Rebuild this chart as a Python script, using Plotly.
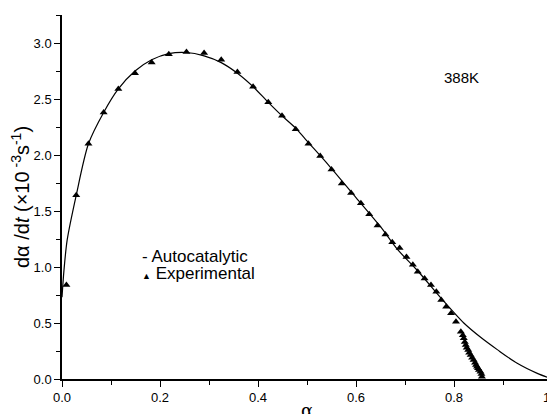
import plotly.graph_objects as go

# Experimental points (alpha, dalpha/dt x1e-3 s^-1)
exp_alpha = [0.009, 0.029, 0.054, 0.085, 0.115, 0.149, 0.183, 0.218, 0.254, 0.290,
             0.325, 0.358, 0.390, 0.421, 0.449, 0.477, 0.503, 0.527, 0.550, 0.571,
             0.590, 0.610, 0.627, 0.644, 0.660, 0.674, 0.689, 0.703, 0.716, 0.726,
             0.740, 0.753, 0.764, 0.774, 0.784, 0.794, 0.804, 0.814, 0.818, 0.820,
             0.822, 0.824, 0.826, 0.829, 0.831, 0.834, 0.837, 0.840, 0.843, 0.845,
             0.847, 0.849, 0.851, 0.854, 0.856, 0.857]
exp_rate = [0.84, 1.64, 2.10, 2.38, 2.59, 2.73, 2.825, 2.90, 2.92, 2.91,
            2.85, 2.74, 2.61, 2.47, 2.35, 2.23, 2.10, 1.99, 1.87, 1.745,
            1.66, 1.57, 1.47, 1.37, 1.29, 1.22, 1.17, 1.09, 1.02, 0.957,
            0.898, 0.839, 0.779, 0.705, 0.645, 0.586, 0.511, 0.422, 0.39, 0.363,
            0.33, 0.303, 0.28, 0.259, 0.235, 0.214, 0.19, 0.169, 0.145, 0.125,
            0.11, 0.095, 0.08, 0.065, 0.045, 0.02]

# Autocatalytic model curve
fit_alpha = [0.0, 0.004, 0.0105, 0.029, 0.054, 0.085, 0.115, 0.149, 0.183, 0.218,
             0.254, 0.290, 0.325, 0.358, 0.390, 0.421, 0.449, 0.477, 0.497, 0.544,
             0.600, 0.650, 0.686, 0.723, 0.777, 0.820, 0.855, 0.889, 0.929, 0.970, 1.0]
fit_rate = [0.73, 0.97, 1.24, 1.64, 2.10, 2.38, 2.59, 2.75, 2.85, 2.905,
            2.915, 2.885, 2.825, 2.73, 2.61, 2.47, 2.35, 2.24, 2.14, 1.91,
            1.62, 1.36, 1.15, 0.98, 0.705, 0.50, 0.37, 0.26, 0.14, 0.05, 0.0]

x_ticks = [0.0, 0.2, 0.4, 0.6, 0.8, 1.0]
x_tick_text = ["0.0", "0.2", "0.4", "0.6", "0.8", "1.0"]
y_ticks = [0.0, 0.5, 1.0, 1.5, 2.0, 2.5, 3.0]
y_tick_text = ["0.0", "0.5", "1.0", "1.5", "2.0", "2.5", "3.0"]

FONT = "Liberation Sans, Arial, sans-serif"

fig = go.Figure()
fig.add_trace(go.Scatter(x=fit_alpha, y=fit_rate, mode="lines",
                         line=dict(color="black", width=1.2, shape="spline", smoothing=0.8),
                         name="Autocatalytic", cliponaxis=False))
fig.add_trace(go.Scatter(x=exp_alpha, y=exp_rate, mode="markers",
                         marker=dict(symbol="triangle-up", size=7, color="black"),
                         name="Experimental", cliponaxis=False))

# the page body adds an 8px offset, so margins are shifted to compensate
fig.update_layout(
    width=555, height=414,
    margin=dict(l=53.5, r=11, t=6.7, b=43, pad=0),
    plot_bgcolor="white", paper_bgcolor="white",
    showlegend=False,
    font=dict(family=FONT, color="black", size=13),
    xaxis=dict(range=[0, 1.0], showgrid=False, zeroline=False, automargin=False,
               showline=True, linecolor="black", linewidth=1.5,
               ticks="outside", ticklen=6, tickwidth=1.2, tickcolor="black",
               tickvals=x_ticks, ticktext=x_tick_text, ticklabeloverflow="allow",
               tickfont=dict(size=13, family=FONT),
               minor=dict(dtick=0.1, ticks="outside", ticklen=4, tickwidth=1.2, tickcolor="black"),
               title=dict(text="α", font=dict(size=18, family="DejaVu Serif"), standoff=0)),
    yaxis=dict(range=[0, 3.25], showgrid=False, zeroline=False, automargin=False,
               showline=True, linecolor="black", linewidth=1.5,
               ticks="outside", ticklen=6, tickwidth=1.2, tickcolor="black",
               tickvals=y_ticks, ticktext=y_tick_text,
               tickfont=dict(size=13, family=FONT),
               minor=dict(dtick=0.25, ticks="outside", ticklen=4, tickwidth=1.2, tickcolor="black"),
               title=dict(text="dα /d<i>t</i> (×10<sup> -3</sup>s<sup>-1</sup>)",
                          font=dict(size=20, family=FONT), standoff=4)),
    annotations=[
        dict(text="388K", x=0.816, y=2.69, xref="x", yref="y", showarrow=False,
             font=dict(size=15, family=FONT)),
        dict(text="- Autocatalytic", x=0.16, y=1.09, xref="x", yref="y", showarrow=False,
             xanchor="left", font=dict(size=17, family=FONT)),
        dict(text="<span style='font-size:9px'>▲</span> Experimental", x=0.16, y=0.94,
             xref="x", yref="y", showarrow=False, xanchor="left",
             font=dict(size=17, family=FONT)),
    ],
)

fig.write_html("out.html")
